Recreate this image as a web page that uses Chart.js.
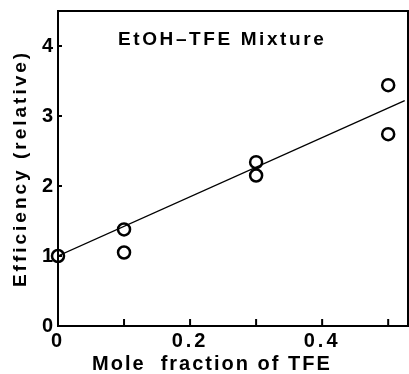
<!DOCTYPE html>
<html><head><meta charset="utf-8">
<script src="https://cdn.jsdelivr.net/npm/chart.js@4.4.0/dist/chart.umd.min.js"></script>
<style>html,body{margin:0;padding:0;background:#fff}#wrap{width:409px;height:374px}</style>
</head><body><div id="wrap"><canvas id="c" width="409" height="374"></canvas></div>
<script>
const moleFraction = [0, 0.1, 0.1, 0.3, 0.3, 0.5, 0.5];
const efficiency   = [1.0, 1.38, 1.05, 2.34, 2.15, 3.44, 2.74];
const fitX = [0, 0.525];
const fitY = [1.0, 3.22];
const xTickValues = [0, 0.1, 0.2, 0.3, 0.4, 0.5];
const xTickLabels = ['0', '', '0.2', '', '0.4', ''];
const yTickValues = [0, 1, 2, 3, 4];
const yTickLabels = ['0', '1', '2', '3', '4'];
const chartTitle = 'EtOH\u2013TFE Mixture';
const xTitle = 'Mole  fraction of TFE';
const yTitle = 'Efficiency (relative)';

const FONT = "'Liberation Sans', Arial, sans-serif";

function noPad(s) { s.paddingTop = 0; s.paddingBottom = 0; s.paddingLeft = 0; s.paddingRight = 0; }

const framePlugin = {
  id: 'frame',
  beforeDraw(chart) { chart.ctx.letterSpacing = '3px'; },
  afterDraw(chart) {
    const ctx = chart.ctx, a = chart.chartArea;
    const xs = chart.scales.x, ys = chart.scales.y;
    ctx.save();
    ctx.letterSpacing = '0px';
    ctx.strokeStyle = '#000';
    ctx.lineWidth = 2;
    ctx.strokeRect(a.left, a.top, a.right - a.left, a.bottom - a.top);
    ctx.beginPath();
    xs.ticks.forEach(t => { const px = xs.getPixelForValue(t.value); ctx.moveTo(px, a.bottom); ctx.lineTo(px, a.bottom - 7); });
    ys.ticks.forEach(t => { const py = ys.getPixelForValue(t.value); ctx.moveTo(a.left, py); ctx.lineTo(a.left + 4, py); });
    ctx.stroke();
    ctx.fillStyle = '#000';
    ctx.textBaseline = 'middle';
    ctx.textAlign = 'left';
    ctx.letterSpacing = '2.6px';
    ctx.font = "bold 19px " + FONT;
    ctx.fillText(chartTitle, 118, 40);
    ctx.letterSpacing = '2px';
    ctx.font = "bold 20px " + FONT;
    ctx.fillText(xTitle, 92, 364);
    ctx.restore();
    ctx.letterSpacing = '0px';
  }
};

new Chart(document.getElementById('c'), {
  data: {
    datasets: [
      { type: 'line', data: fitX.map((x, i) => ({x, y: fitY[i]})), borderColor: '#000', borderWidth: 1.3, pointRadius: 0, fill: false, tension: 0 },
      { type: 'scatter', clip: false, data: moleFraction.map((x, i) => ({x, y: efficiency[i]})), pointStyle: 'circle', pointRadius: 6, borderWidth: 2.5, borderColor: '#000', backgroundColor: 'rgba(0,0,0,0)' }
    ]
  },
  options: {
    responsive: false, animation: false, devicePixelRatio: 1,
    layout: { autoPadding: false, padding: { top: 11, right: 1, left: 0, bottom: 0 } },
    plugins: { legend: { display: false }, tooltip: { enabled: false } },
    scales: {
      x: {
        type: 'linear', min: 0, max: 0.53,
        afterBuildTicks: s => { s.ticks = xTickValues.map(v => ({value: v})); },
        afterFit: s => { s.height = 48; noPad(s); },
        grid: { drawOnChartArea: false, drawTicks: false },
        border: { display: false },
        ticks: { color: '#000', padding: 3, maxRotation: 0, autoSkip: false, font: { family: FONT, size: 20, weight: 'bold' },
                 callback: (v, i) => xTickLabels[i] },
        title: { display: false }
      },
      y: {
        type: 'linear', min: 0, max: 4.5,
        afterBuildTicks: s => { s.ticks = yTickValues.map(v => ({value: v})); },
        afterFit: s => { s.width = 58; noPad(s); },
        grid: { drawOnChartArea: false, drawTicks: false },
        border: { display: false },
        ticks: { color: '#000', padding: 2, autoSkip: false, font: { family: FONT, size: 20, weight: 'bold' },
                 callback: (v, i) => yTickLabels[i] },
        title: { display: true, text: yTitle, color: '#000', padding: { top: 9, bottom: 0 }, font: { family: FONT, size: 19, weight: 'bold' } }
      }
    }
  },
  plugins: [framePlugin]
});
</script></body></html>
